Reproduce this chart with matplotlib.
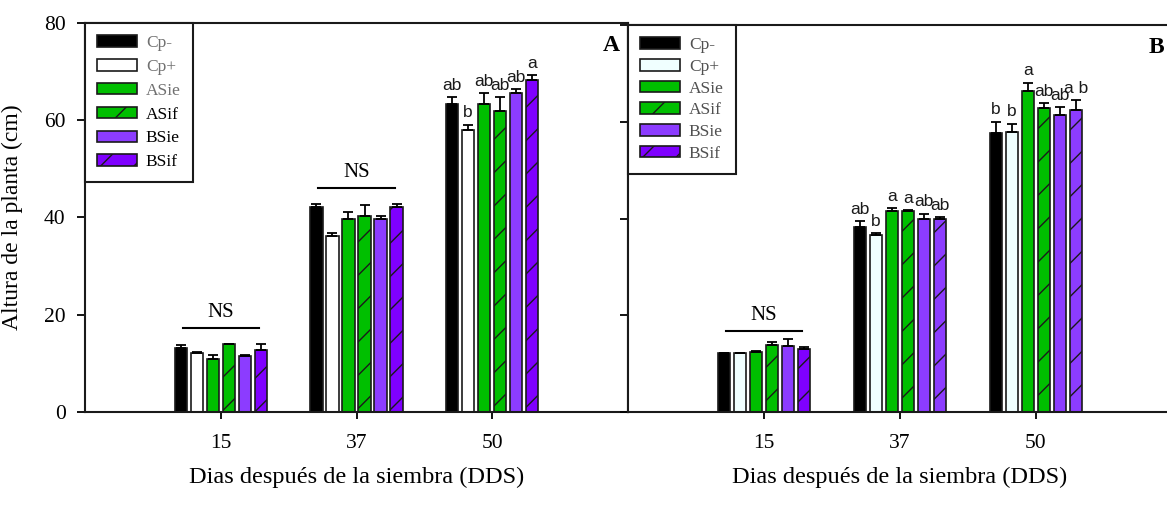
import matplotlib
matplotlib.use("Agg")
import matplotlib.pyplot as plt
import numpy as np

plt.rcParams['font.family'] = ['Liberation Serif', 'DejaVu Serif']
plt.rcParams['hatch.linewidth'] = 1.0
plt.rcParams['hatch.color'] = 'black'

# ---------------- data ----------------
days = ["15", "37", "50"]
treatments = ["Cp-", "Cp+", "ASie", "ASif", "BSie", "BSif"]

# Panel A
a_cpm = [13.1, 42.1, 63.3]
a_cpp = [12.2, 36.2, 58.0]
a_asie = [11.0, 39.6, 63.3]
a_asif = [13.9, 40.4, 62.0]
a_bsie = [11.5, 39.6, 65.6]
a_bsif = [12.7, 42.1, 68.2]
a_err_cpm = [0.7, 0.7, 1.5]
a_err_cpp = [0.1, 0.7, 1.1]
a_err_asie = [0.8, 1.5, 2.3]
a_err_asif = [0.1, 2.1, 2.8]
a_err_bsie = [0.2, 0.8, 0.8]
a_err_bsif = [1.2, 0.7, 1.1]
a_letters_50 = ["ab", "b", "ab", "ab", "ab", "a"]

# Panel B
b_cpm = [12.1, 38.2, 57.6]
b_cpp = [12.1, 36.6, 57.9]
b_asie = [12.4, 41.6, 66.3]
b_asif = [13.8, 41.5, 62.9]
b_bsie = [13.7, 39.8, 61.3]
b_bsif = [13.0, 39.8, 62.5]
b_err_cpm = [0.1, 1.2, 2.4]
b_err_cpp = [0.1, 0.3, 1.7]
b_err_asie = [0.2, 0.6, 1.8]
b_err_asif = [0.7, 0.2, 0.9]
b_err_bsie = [1.3, 1.2, 1.7]
b_err_bsif = [0.4, 0.5, 1.9]
b_letters_37 = ["ab", "b", "a", "a", "ab", "ab"]
b_letters_50 = ["b", "b", "a", "ab", "ab", "a b"]

# NS annotations: (group index, line height)
a_ns = [(0, 17.3), (1, 46.1)]
b_ns = [(0, 16.8)]

# ---------------- styles ----------------
green = "#00bf00"
purple_l = "#8c3cff"
purple_d = "#7f00ff"
a_colors = ["black", "white", green, green, purple_l, purple_d]
b_colors = ["black", "#f0ffff", green, green, purple_l, [purple_d, purple_l, purple_l]]
hatches = [None, None, None, "/", None, "/"]

fig = plt.figure(figsize=(11.67, 5.08), dpi=100)
W, H = 1167, 508
axA = fig.add_axes([85 / W, (H - 412) / H, (628 - 85) / W, (412 - 23) / H])
axB = fig.add_axes([628 / W, (H - 412) / H, (1172 - 628) / W, (412 - 25) / H])

x = np.arange(1, len(days) + 1)
slot = 0.118
bw = 0.090


def draw_panel(ax, series, errs, colors, letters, ns, legend_colors, label,
               lab_spacing):
    handles = []
    for i, (vals, err) in enumerate(zip(series, errs)):
        off = (i - 2.5) * slot
        bars = ax.bar(x + off, vals, bw, color=colors[i], edgecolor="#1a1a1a",
                      linewidth=1.2, hatch=hatches[i], zorder=2,
                      yerr=[np.zeros(len(err)), err],
                      error_kw=dict(ecolor="black", elinewidth=1.3, capsize=3.5,
                                    capthick=1.3, zorder=3),
                      label=treatments[i])
        handles.append(bars)
    # significance letters
    for gi, labs in letters:
        for i, lab in enumerate(labs):
            vals = series[i]
            err = errs[i]
            ax.text(x[gi] + (i - 2.5) * slot, vals[gi] + err[gi] + 0.9, lab,
                    ha="center", va="bottom", fontsize=12.5,
                    family=["Liberation Sans", "DejaVu Sans"], color="#1a1a1a")
    for gi, yl in ns:
        ax.plot([x[gi] - 0.28, x[gi] + 0.28], [yl, yl], color="black", lw=1.5)
        ax.text(x[gi], yl + 1.2, "NS", ha="center", va="bottom", fontsize=15)

    ax.set_xlim(0, 4)
    ax.set_ylim(0, 80)
    ax.set_xticks(x)
    ax.set_xticklabels(days, fontsize=15.5)
    ax.set_xlabel("Dias después de la siembra (DDS)", fontsize=17.5, labelpad=10)
    ax.tick_params(axis="x", direction="out", length=5, width=1.3, pad=11)
    for s in ax.spines.values():
        s.set_linewidth(1.5)
        s.set_color("#1a1a1a")

    leg = ax.legend(handles=handles, loc="upper left", bbox_to_anchor=(0.0, 1.0),
                    borderaxespad=0.0, fancybox=False, edgecolor="#1a1a1a",
                    framealpha=1, fontsize=12.5, handlelength=2.3,
                    handleheight=0.65, handletextpad=0.5, labelspacing=lab_spacing,
                    borderpad=0.7)
    leg.get_frame().set_linewidth(1.5)
    for t, c in zip(leg.get_texts(), legend_colors):
        t.set_color(c)
    ax.text(0.985, 0.97, label, transform=ax.transAxes, ha="right", va="top",
            fontsize=17, fontweight="bold")


draw_panel(axA,
           [a_cpm, a_cpp, a_asie, a_asif, a_bsie, a_bsif],
           [a_err_cpm, a_err_cpp, a_err_asie, a_err_asif, a_err_bsie, a_err_bsif],
           a_colors, [(2, a_letters_50)], a_ns,
           ["#707070", "#707070", "#707070", "black", "black", "black"], "A",
           0.45)

draw_panel(axB,
           [b_cpm, b_cpp, b_asie, b_asif, b_bsie, b_bsif],
           [b_err_cpm, b_err_cpp, b_err_asie, b_err_asif, b_err_bsie, b_err_bsif],
           b_colors, [(1, b_letters_37), (2, b_letters_50)], b_ns,
           ["#505050"] * 6, "B", 0.33)

# Panel A y axis
axA.set_yticks([0, 20, 40, 60, 80])
axA.set_yticklabels(["0", "20", "40", "60", "80"], fontsize=15.5)
axA.set_ylabel("Altura de la planta (cm)", fontsize=17)
axA.yaxis.set_label_coords(-0.115, 0.5)
axA.tick_params(axis="y", direction="out", length=6, width=1.3, pad=8)
# Panel B y axis (no labels)
axB.set_yticks([0, 20, 40, 60, 80])
axB.tick_params(axis="y", direction="out", length=6, width=1.3, labelleft=False)
axB.spines["right"].set_visible(False)

fig.savefig("out.png", dpi=100)
